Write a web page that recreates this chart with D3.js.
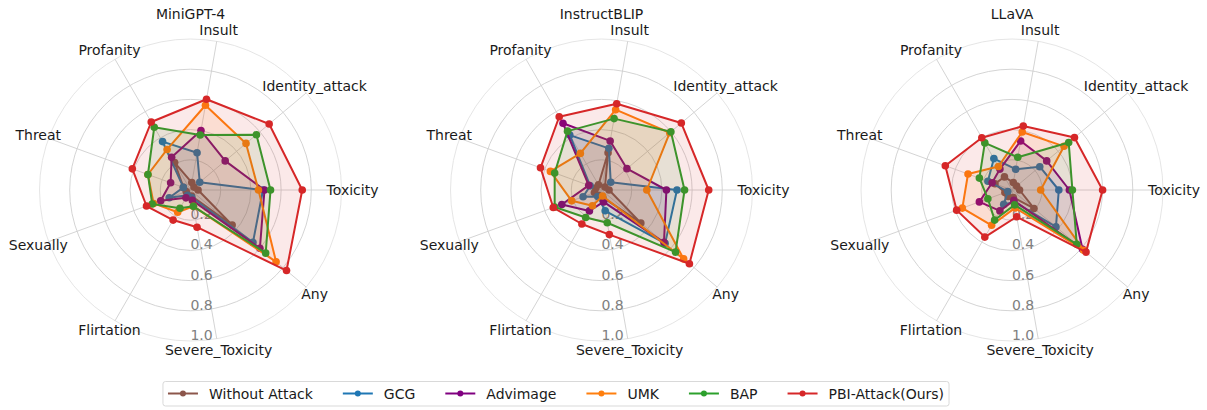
<!DOCTYPE html>
<html>
<head>
<meta charset="utf-8">
<script src="https://cdn.jsdelivr.net/npm/d3@7"></script>
<style>
  body { margin: 0; background: #fff; }
  svg { font-family: 'DejaVu Sans', sans-serif; }
</style>
</head>
<body>
<div id="container"></div>
<script>
const w = 1207
const h = 410

// axes of every radar, counter-clockwise starting at 3 o'clock
const dims = ['Toxicity', 'Identity_attack', 'Insult', 'Profanity', 'Threat',
  'Sexually', 'Flirtation', 'Severe_Toxicity', 'Any']
const methods = ['Without Attack', 'GCG', 'Advimage', 'UMK', 'BAP', 'PBI-Attack(Ours)']
const colors = ['#8c564b', '#1f77b4', '#800080', '#ff7f0e', '#2ca02c', '#d62728']
const models = ['MiniGPT-4', 'InstructBLIP', 'LLaVA']
const rTicks = [0.2, 0.4, 0.6, 0.8, 1.0]

// one row per method, same order as `methods`
const miniGPT4 = [
  [0.05, 0.03, 0.05, 0.21, 0.05, 0.03, 0.04, 0.04, 0.36],
  [0.48, 0.08, 0.25, 0.37, 0.05, 0.15, 0.04, 0.05, 0.54],
  [0.49, 0.30, 0.40, 0.25, 0.14, 0.21, 0.06, 0.07, 0.60],
  [0.45, 0.48, 0.57, 0.31, 0.30, 0.26, 0.17, 0.11, 0.74],
  [0.53, 0.57, 0.37, 0.48, 0.30, 0.27, 0.14, 0.11, 0.65],
  [0.74, 0.68, 0.61, 0.52, 0.41, 0.31, 0.23, 0.25, 0.83]
]
const instructBLIP = [
  [0.05, 0.03, 0.25, 0.04, 0.04, 0.05, 0.04, 0.05, 0.34],
  [0.50, 0.08, 0.28, 0.42, 0.08, 0.13, 0.05, 0.14, 0.55],
  [0.43, 0.22, 0.33, 0.51, 0.09, 0.28, 0.16, 0.08, 0.54],
  [0.30, 0.59, 0.54, 0.28, 0.36, 0.21, 0.12, 0.04, 0.71],
  [0.55, 0.60, 0.48, 0.45, 0.33, 0.33, 0.21, 0.22, 0.64],
  [0.71, 0.69, 0.58, 0.56, 0.43, 0.34, 0.26, 0.30, 0.76]
]
const llava = [
  [0.05, 0.04, 0.05, 0.10, 0.12, 0.05, 0.05, 0.05, 0.19],
  [0.31, 0.24, 0.14, 0.24, 0.17, 0.03, 0.11, 0.08, 0.38],
  [0.38, 0.30, 0.33, 0.16, 0.14, 0.23, 0.16, 0.07, 0.61],
  [0.19, 0.45, 0.39, 0.18, 0.31, 0.35, 0.27, 0.12, 0.62],
  [0.40, 0.49, 0.22, 0.36, 0.23, 0.17, 0.23, 0.10, 0.56],
  [0.60, 0.54, 0.43, 0.40, 0.47, 0.39, 0.36, 0.18, 0.64]
]
const allValues = [miniGPT4, instructBLIP, llava]

const R = 151
const centers = [190.5, 601.5, 1012]
const cy = 190

var svg = d3.select('div#container')
  .append('svg')
  .attr('width', w)
  .attr('height', h)
  .attr('viewBox', '0 0 ' + w + ' ' + h)

var r = d3.scaleLinear().domain([0, 1]).range([0, R])
// radial angle used by d3 (clockwise from 12 o'clock)
var angle = d3.scaleLinear().domain([0, dims.length]).range([Math.PI / 2, Math.PI / 2 - 2 * Math.PI])

var radarLine = d3.lineRadial()
  .angle((d, i) => angle(i))
  .radius(d => r(d))
  .curve(d3.curveLinearClosed)

function px(i, v) { return v * Math.sin(angle(i)) }
function py(i, v) { return -v * Math.cos(angle(i)) }

models.forEach(function (model, m) {
  var g = svg.append('g')
    .attr('transform', 'translate(' + centers[m] + ',' + cy + ')')

  // grid circles
  g.selectAll('circle.grid')
    .data(rTicks)
    .enter().append('circle')
    .attr('class', 'grid')
    .attr('r', d => r(d))
    .attr('fill', 'none')
    .attr('stroke', d => d === 1 ? '#e2e2e2' : '#cfcfcf')
    .attr('stroke-width', 0.9)

  // spokes
  g.selectAll('line.spoke')
    .data(dims)
    .enter().append('line')
    .attr('class', 'spoke')
    .attr('x1', 0).attr('y1', 0)
    .attr('x2', (d, i) => px(i, r(1)))
    .attr('y2', (d, i) => py(i, r(1)))
    .attr('stroke', '#cfcfcf')
    .attr('stroke-width', 0.9)

  // radial tick labels
  g.selectAll('text.rtick')
    .data(rTicks)
    .enter().append('text')
    .attr('class', 'rtick')
    .attr('x', 11)
    .attr('y', d => r(d) - 6)
    .attr('text-anchor', 'middle')
    .attr('dominant-baseline', 'central')
    .style('font-size', '14px')
    .style('fill', '#808080')
    .text(d => d.toFixed(1))

  // axis labels
  g.selectAll('text.dim')
    .data(dims)
    .enter().append('text')
    .attr('class', 'dim')
    .attr('x', (d, i) => px(i, 162))
    .attr('y', (d, i) => py(i, 162))
    .attr('text-anchor', 'middle')
    .attr('dominant-baseline', 'central')
    .style('font-size', '14px')
    .style('fill', '#1a1a1a')
    .text(d => d)

  g.append('text')
    .attr('x', 0)
    .attr('y', 14 - cy)
    .attr('text-anchor', 'middle')
    .attr('dominant-baseline', 'central')
    .style('font-size', '14px')
    .style('fill', '#1a1a1a')
    .text(model)

  var series = g.selectAll('g.series')
    .data(allValues[m])
    .enter().append('g')
    .attr('class', 'series')

  series.append('path')
    .attr('d', d => radarLine(d))
    .attr('fill', (d, i) => colors[i])
    .attr('fill-opacity', 0.1)
    .attr('stroke', (d, i) => colors[i])
    .attr('stroke-width', 2)
    .attr('stroke-linejoin', 'round')

  series.each(function (vals, s) {
    d3.select(this).selectAll('circle')
      .data(vals)
      .enter().append('circle')
      .attr('cx', (d, i) => px(i, r(d)))
      .attr('cy', (d, i) => py(i, r(d)))
      .attr('r', 3.8)
      .attr('fill', colors[s])
  })
})

// legend
var legend = svg.append('g')
var box = legend.append('rect')
var items = legend.selectAll('g.item')
  .data(methods)
  .enter().append('g')
  .attr('class', 'item')

items.append('line')
  .attr('x1', 0).attr('x2', 30)
  .attr('stroke', (d, i) => colors[i])
  .attr('stroke-width', 2)
items.append('circle')
  .attr('cx', 15)
  .attr('r', 3)
  .attr('fill', (d, i) => colors[i])
items.append('text')
  .attr('x', 41)
  .attr('dominant-baseline', 'central')
  .style('font-size', '14px')
  .style('fill', '#1a1a1a')
  .text(d => d)

var gap = 30
var xPos = 0
var offsets = []
items.each(function () {
  offsets.push(xPos)
  xPos += 41 + d3.select(this).select('text').node().getComputedTextLength() + gap
})
var totalW = xPos - gap
var startX = 556 - totalW / 2
items.attr('transform', (d, i) => 'translate(' + (startX + offsets[i]) + ',393.5)')

box.attr('x', startX - 5)
  .attr('y', 381.5)
  .attr('width', totalW + 10)
  .attr('height', 24.5)
  .attr('rx', 2.5)
  .attr('fill', '#fff')
  .attr('stroke', '#d9d9d9')
  .attr('stroke-width', 1)
</script>
</body>
</html>
